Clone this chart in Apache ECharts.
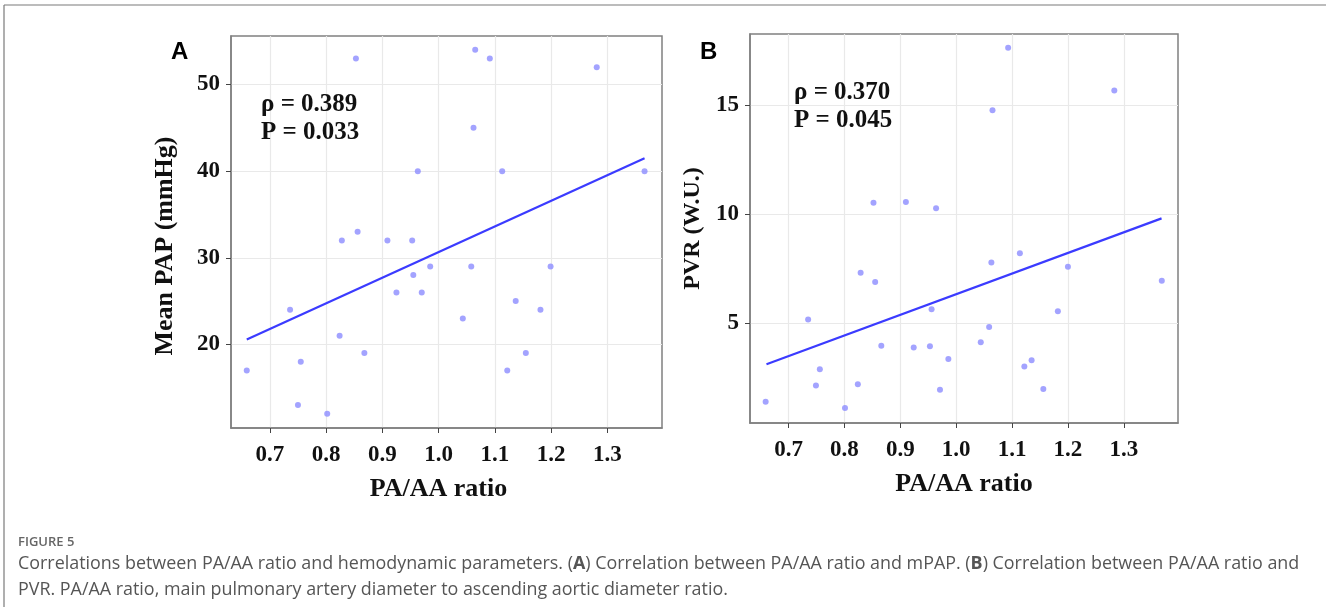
<!DOCTYPE html>
<html>
<head>
<meta charset="utf-8">
<script src="https://cdn.jsdelivr.net/npm/echarts@6/dist/echarts.min.js"></script>
<style>
html,body{margin:0;padding:0;background:#fff;}
#c{width:1326px;height:607px;}
</style>
</head>
<body>
<div id="c"></div>
<script>
// Panel A: PA/AA ratio vs Mean PAP
var ratioA = [0.853,1.065,1.091,1.281,1.062,0.963,1.113,1.366,0.828,0.856,0.909,0.953,0.985,1.058,1.199,0.955,0.925,0.970,0.736,1.137,1.181,1.043,0.824,0.659,0.755,0.868,1.155,1.122,0.750,0.802];
var mpapA  = [53,54,53,52,45,40,40,40,32,33,32,32,29,29,29,28,26,26,24,25,24,23,21,17,18,19,19,17,13,12];
var fitA_x = [0.659, 1.366];
var fitA_y = [20.58, 41.5];

// Panel B: PA/AA ratio vs PVR
var ratioB = [1.093,1.283,1.065,0.852,0.910,0.964,1.114,1.063,1.200,0.829,1.368,0.855,0.956,1.182,0.735,1.059,1.044,0.866,0.924,0.953,0.986,1.135,1.122,0.756,0.824,0.749,1.156,0.971,0.659,0.801];
var pvrB   = [17.63,15.67,14.76,10.52,10.55,10.26,8.2,7.77,7.58,7.31,6.94,6.88,5.63,5.54,5.16,4.82,4.11,3.96,3.87,3.93,3.35,3.29,3.0,2.88,2.19,2.13,1.97,1.94,1.39,1.10];
var fitB_x = [0.6605, 1.3676];
var fitB_y = [3.11, 9.80];

// tick labels
var xTicks  = [0.7,0.8,0.9,1.0,1.1,1.2,1.3];
var yTicksA = [20,30,40,50];
var yTicksB = [5,10,15];

var statsA = ['\u03c1 = 0.389', 'P = 0.033'];
var statsB = ['\u03c1 = 0.370', 'P = 0.045'];

function pairs(xs, ys){ return xs.map(function(x,i){ return [x, ys[i]]; }); }

var SERIF = '"Liberation Serif","DejaVu Serif",serif';
var boxColor = '#808080';
var gridColor = '#e9e9e9';

function xAxis(gridIndex, nameGap, pad){
  return {
    gridIndex: gridIndex, type: 'value', min: 0.631, max: 1.397,
    name: 'PA/AA ratio', nameLocation: 'middle', nameGap: nameGap,
    nameTextStyle: {fontFamily: SERIF, fontWeight: 'bold', fontSize: 26, color: '#111', padding: pad},
    axisLine: {show: true, onZero: false, lineStyle: {color: boxColor, width: 1.5}},
    axisTick: {show: true, length: 5, customValues: xTicks, lineStyle: {color: '#444', width: 1}},
    axisLabel: {customValues: xTicks, margin: 16, fontFamily: SERIF, fontWeight: 'bold', fontSize: 23, color: '#111',
      formatter: function(v){ return v.toFixed(1); }},
    splitLine: {show: true, lineStyle: {color: gridColor, width: 1.2}}
  };
}
function yAxis(gridIndex, min, max, ticks, name, nameGap, fs, pad){
  return {
    gridIndex: gridIndex, type: 'value', min: min, max: max,
    name: name, nameLocation: 'middle', nameGap: nameGap,
    nameTextStyle: {fontFamily: SERIF, fontWeight: 'bold', fontSize: fs, color: '#111', padding: pad},
    axisLine: {show: true, onZero: false, lineStyle: {color: boxColor, width: 1.5}},
    axisTick: {show: true, length: 5, customValues: ticks, lineStyle: {color: '#444', width: 1}},
    axisLabel: {customValues: ticks, margin: 11, fontFamily: SERIF, fontWeight: 'bold', fontSize: 23, color: '#111'},
    splitLine: {show: true, lineStyle: {color: gridColor, width: 1.2}}
  };
}

var captionRich = {
  b: {fontFamily: '"Open Sans",sans-serif', fontSize: 17.9, fontWeight: 'bold', fill: '#555'}
};

var option = {
  backgroundColor: '#fff',
  animation: false,
  grid: [
    {left: 231, top: 36, width: 431, height: 392, show: true, borderColor: boxColor, borderWidth: 1.5, backgroundColor: '#fff'},
    {left: 750, top: 34, width: 428, height: 389, show: true, borderColor: boxColor, borderWidth: 1.5, backgroundColor: '#fff'}
  ],
  xAxis: [ xAxis(0, 48, [0,16,0,0]), xAxis(1, 48, [0,0,0,0]) ],
  yAxis: [
    yAxis(0, 10.35, 55.6, yTicksA, 'Mean PAP (mmHg)', 53, 26, [0,28,0,0]),
    yAxis(1, 0.41, 18.26, yTicksB, 'PVR (W.U.)', 45, 24, [0,0,0,0])
  ],
  series: [
    {type: 'scatter', xAxisIndex: 0, yAxisIndex: 0, data: pairs(ratioA, mpapA), symbolSize: 6,
      itemStyle: {color: '#8c8cff'}, z: 3},
    {type: 'line', xAxisIndex: 0, yAxisIndex: 0, data: pairs(fitA_x, fitA_y), showSymbol: false, symbol: 'none',
      lineStyle: {color: '#3b3bff', width: 2.2}, z: 4},
    {type: 'scatter', xAxisIndex: 1, yAxisIndex: 1, data: pairs(ratioB, pvrB), symbolSize: 6,
      itemStyle: {color: '#8c8cff'}, z: 3},
    {type: 'line', xAxisIndex: 1, yAxisIndex: 1, data: pairs(fitB_x, fitB_y), showSymbol: false, symbol: 'none',
      lineStyle: {color: '#3b3bff', width: 2.2}, z: 4}
  ],
  graphic: [
    {type: 'line', shape: {x1: 4, y1: 5, x2: 1326, y2: 5}, style: {stroke: '#7a7a7a', lineWidth: 1.2}, silent: true, z: 100},
    {type: 'line', shape: {x1: 4, y1: 5, x2: 4, y2: 607}, style: {stroke: '#7a7a7a', lineWidth: 1.2}, silent: true, z: 100},
    {type: 'text', left: 171, top: 40, z: 100, style: {text: 'A', font: 'bold 24px "Liberation Sans", Arial, sans-serif', fill: '#000'}},
    {type: 'text', left: 700, top: 40, z: 100, style: {text: 'B', font: 'bold 24px "Liberation Sans", Arial, sans-serif', fill: '#000'}},
    {type: 'text', left: 261, top: 91, z: 100, style: {text: statsA.join('\n'), font: 'bold 25px "Liberation Serif", serif', lineHeight: 28, fill: '#111'}},
    {type: 'text', left: 794, top: 79, z: 100, style: {text: statsB.join('\n'), font: 'bold 25px "Liberation Serif", serif', lineHeight: 28, fill: '#111'}},
    {type: 'text', left: 18, top: 536, z: 100, style: {text: 'FIGURE 5', font: '600 13px "Open Sans", sans-serif', fill: '#666'}},
    {type: 'text', left: 18, top: 555, z: 100, style: {
      text: 'Correlations between PA/AA ratio and hemodynamic parameters. ({b|A}) Correlation between PA/AA ratio and mPAP. ({b|B}) Correlation between PA/AA ratio and',
      font: '17.9px "Open Sans", sans-serif', fill: '#555', rich: captionRich}},
    {type: 'text', left: 18, top: 581, z: 100, style: {
      text: 'PVR. PA/AA ratio, main pulmonary artery diameter to ascending aortic diameter ratio.',
      font: '17.9px "Open Sans", sans-serif', fill: '#555'}}
  ]
};

var chart = echarts.init(document.getElementById('c'), null, {renderer: 'canvas'});
chart.setOption(option);
</script>
</body>
</html>
